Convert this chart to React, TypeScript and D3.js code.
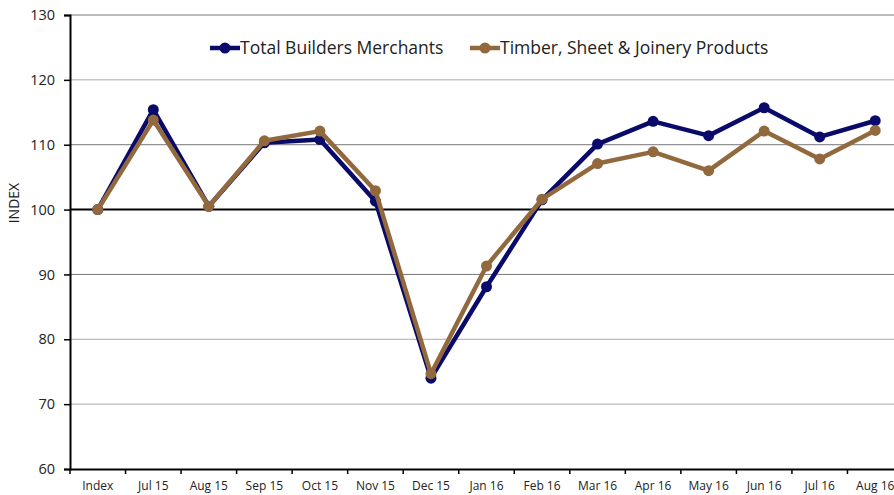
import React, { useEffect, useRef } from "react";
import * as d3 from "d3";

const categories = [
  "Index", "Jul 15", "Aug 15", "Sep 15", "Oct 15", "Nov 15", "Dec 15", "Jan 16",
  "Feb 16", "Mar 16", "Apr 16", "May 16", "Jun 16", "Jul 16", "Aug 16",
];
const totalBM = [100, 115.4, 100.5, 110.3, 110.8, 101.3, 74, 88.1, 101.5, 110.1, 113.6, 111.4, 115.7, 111.2, 113.7];
const timber = [100, 113.8, 100.5, 110.6, 112.1, 102.9, 74.7, 91.3, 101.6, 107.1, 108.9, 106, 112.1, 107.8, 112.2];
const yTicks = [60, 70, 80, 90, 100, 110, 120, 130];

const series = [
  { name: "Total Builders Merchants", values: totalBM, color: "#0a0a6b" },
  { name: "Timber, Sheet & Joinery Products", values: timber, color: "#92693d" },
];

const App = () => {
  const ref = useRef<SVGSVGElement>(null);

  useEffect(() => {
    const svg = d3.select(ref.current);
    svg.selectAll("*").remove();

    const left = 70, top = 15, bottom = 469;
    const x = d3.scaleBand().domain(categories).range([left, 903]);
    const y = d3.scaleLinear().domain([60, 130]).range([bottom, top]);
    const cx = (i: number) => (x(categories[i]) as number) + x.bandwidth() / 2;

    // gridlines
    svg.append("g")
      .selectAll("line")
      .data(yTicks.filter((t) => t !== 60 && t !== 100))
      .enter()
      .append("line")
      .attr("x1", left).attr("x2", 904)
      .attr("y1", (d) => y(d)).attr("y2", (d) => y(d))
      .attr("stroke", (d) => (d === 110 || d === 90 || d === 130 ? "#777" : "#aaa"))
      .attr("stroke-width", 1);

    // 100 baseline
    svg.append("line")
      .attr("x1", left).attr("x2", 904)
      .attr("y1", y(100)).attr("y2", y(100))
      .attr("stroke", "#000").attr("stroke-width", 2);

    // y axis
    const yAxis = svg.append("g")
      .attr("transform", `translate(${left},0)`)
      .call(d3.axisLeft(y).tickValues(yTicks).tickSize(6).tickPadding(9));
    yAxis.select(".domain").attr("stroke-width", 2);
    yAxis.selectAll(".tick line").attr("stroke-width", 1.5);
    yAxis.selectAll("text")
      .style("font-family", "'Open Sans', sans-serif")
      .style("font-size", "14.5px")
      .attr("fill", "#222");

    // x axis
    const xAxis = svg.append("g")
      .attr("transform", `translate(0,${bottom})`)
      .call(d3.axisBottom(x).tickSize(0).tickPadding(12));
    xAxis.select(".domain").attr("stroke-width", 2);
    xAxis.selectAll("text")
      .style("font-family", "'Open Sans', sans-serif")
      .style("font-size", "12px")
      .attr("fill", "#222");
    svg.append("g")
      .selectAll("line")
      .data(d3.range(categories.length + 1))
      .enter()
      .append("line")
      .attr("x1", (d) => left + d * x.step()).attr("x2", (d) => left + d * x.step())
      .attr("y1", bottom).attr("y2", bottom + 5)
      .attr("stroke", "#000").attr("stroke-width", 1.5);

    // y label
    svg.append("text")
      .attr("transform", `translate(19,${y(101)}) rotate(-90)`)
      .attr("text-anchor", "middle")
      .style("font-family", "'Open Sans', sans-serif")
      .style("font-size", "14px")
      .attr("fill", "#222")
      .text("INDEX");

    const line = d3.line<number>().x((_, i) => cx(i)).y((d) => y(d));

    series.forEach((s) => {
      svg.append("path")
        .datum(s.values)
        .attr("d", line)
        .attr("fill", "none")
        .attr("stroke", s.color)
        .attr("stroke-width", 4.5)
        .attr("stroke-linejoin", "round");
      svg.append("g")
        .selectAll("circle")
        .data(s.values)
        .enter()
        .append("circle")
        .attr("cx", (_, i) => cx(i))
        .attr("cy", (d) => y(d))
        .attr("r", 5.5)
        .attr("fill", s.color);
    });

    // legend
    const legendX = [210, 470];
    series.forEach((s, i) => {
      const g = svg.append("g").attr("transform", `translate(${legendX[i]},48)`);
      g.append("line").attr("x1", 0).attr("x2", 30).attr("stroke", s.color).attr("stroke-width", 4.5);
      g.append("circle").attr("cx", 15).attr("r", 5.5).attr("fill", s.color);
      g.append("text")
        .attr("x", 30)
        .attr("dy", "0.35em")
        .style("font-family", "'Open Sans', sans-serif")
        .style("font-size", "17.5px")
        .attr("fill", "#222")
        .text(s.name);
    });
  }, []);

  return (
    <div style={{ position: "absolute", left: 0, top: 0 }}>
      <svg ref={ref} width={894} height={495} />
    </div>
  );
};

export default App;
